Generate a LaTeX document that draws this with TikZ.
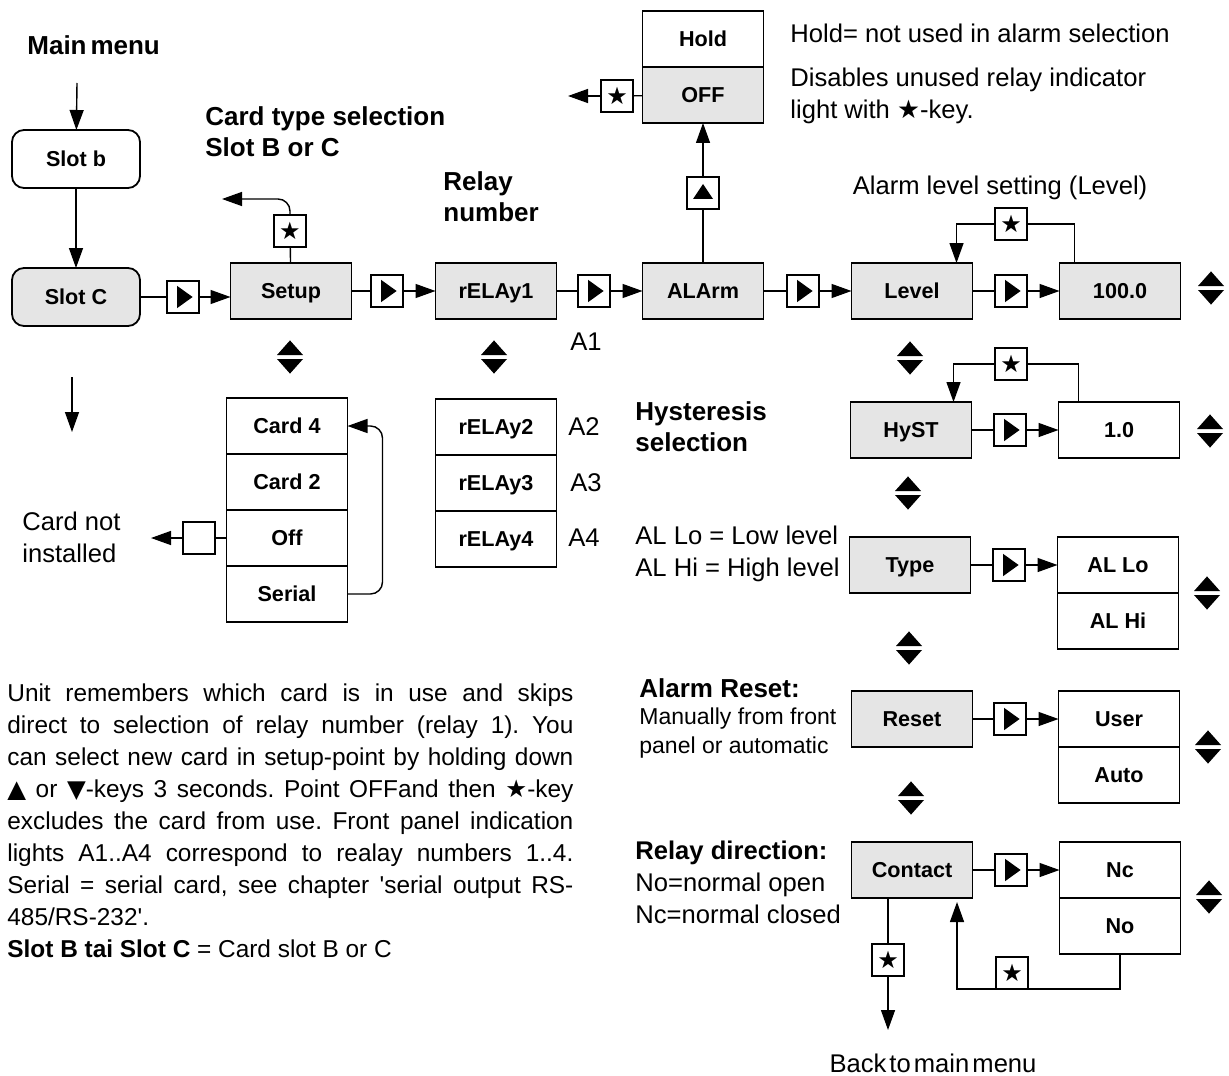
\documentclass[tikz,border=0pt]{standalone}
\usepackage{fontspec}
\setmainfont{Liberation Sans}
\newfontfamily\symfont{DejaVu Sans}
\usetikzlibrary{arrows.meta,positioning}

\newcommand\boxfont{\bfseries\fontsize{10.8}{12}\selectfont}
\newcommand\txtfont{\fontsize{12.8}{16}\selectfont}
\newcommand\smallfont{\fontsize{11.5}{14.5}\selectfont}
\newcommand\headfont{\bfseries\fontsize{13}{15.5}\selectfont}
\newcommand\parfont{\fontsize{12.2}{16}\selectfont\frenchspacing
  \spaceskip=0.22em plus 0.6em minus 0.05em}
\newcommand\starsym{{\symfont ★}}

\tikzset{
  menubox/.style={draw, line width=0.9pt, fill=black!10, minimum width=60.5pt,
    minimum height=28pt, inner sep=0pt, outer sep=0pt, font=\boxfont,
    text height=7.7pt, text depth=0pt},
  optbox/.style={menubox, fill=white},
  slotbox/.style={menubox, rounded corners=6pt, minimum width=64pt, minimum height=29pt},
  keybox/.style={draw, fill=white, line width=0.8pt, minimum size=16pt, inner sep=0pt,
    outer sep=0pt, font=\symfont\fontsize{12}{12}\selectfont},
  playkey/.style={keybox, path picture={
    \fill[black] ([xshift=-3pt,yshift=5.6pt]path picture bounding box.center)
      -- ++(7.8pt,-5.6pt) -- ++(-7.8pt,-5.6pt) -- cycle;}},
  upkey/.style={keybox, path picture={
    \fill[black] ([xshift=-5pt,yshift=-3pt]path picture bounding box.center)
      -- ++(10pt,0) -- ++(-5pt,7.5pt) -- cycle;}},
  updown/.style={minimum width=13.5pt, minimum height=18pt, inner sep=0pt, path picture={
    \fill[black] ([xshift=-6.5pt,yshift=1pt]path picture bounding box.center)
      -- ++(13pt,0) -- ++(-6.5pt,7.3pt) -- cycle;
    \fill[black] ([xshift=-6.5pt,yshift=-1pt]path picture bounding box.center)
      -- ++(13pt,0) -- ++(-6.5pt,-7.3pt) -- cycle;}},
  note/.style={anchor=west, align=left, inner sep=0pt, font=\txtfont},
  head/.style={note, font=\headfont},
  link/.style={line width=0.7pt},
  arr/.style={link, -{Triangle[length=10pt,width=7pt]}}
}

\begin{document}
\begin{tikzpicture}[x=0.5pt,y=-0.5pt]
\useasboundingbox (0,0) rectangle (1229,1075);

% slots
\node[head] (mainmenu) at (27,45) {Main\hspace{0.15em}menu};
\coordinate (mmIn) at (77,83);
\node[slotbox, fill=white] (slotb) at (76,159) {Slot b};
\node[slotbox] (slotc) at (76,297) {Slot C};
\draw[arr] (mmIn) -- (slotb);
\draw[arr] (slotb) -- (slotc);
\coordinate (skipA) at (72,377);
\coordinate (skipB) at (72,432);
\draw[arr] (skipA) -- (skipB);

% main row
\node[menubox] (setup) at (291,291) {Setup};
\node[menubox] (relay1) at (496,291) {rELAy1};
\node[menubox] (alarm) at (703,291) {ALArm};
\node[menubox] (level) at (912,291) {Level};
\node[menubox] (lvlval) at (1120,291) {100.0};
\node[playkey] (k1) at (183,297) {};
\node[playkey] (k2) at (387,291) {};
\node[playkey] (k3) at (594,291) {};
\node[playkey] (k4) at (803,291) {};
\node[playkey] (k5) at (1011,291) {};
\draw[link] (slotc) -- (k1);
\draw[arr] (k1) -- (k1 -| setup.west);
\foreach \a/\k/\b in {setup/k2/relay1, relay1/k3/alarm, alarm/k4/level, level/k5/lvlval} {
  \draw[link] (\a) -- (\k);
  \draw[arr] (\k) -- (\b);
}

% card type
\node[head] (cardsel) at (205,132) {Card type selection\\Slot B or C};
\node[keybox] (kS) at (290,231) {★};
\coordinate (setupOut) at (222,199);
\draw[link] (setup) -- (kS);
\draw[arr, rounded corners=6pt] (kS) |- (setupOut);
\node[optbox] (card4) at (287,426) {Card 4};
\node[optbox, below=0pt of card4] (card2) {Card 2};
\node[optbox, below=0pt of card2] (cardoff) {Off};
\node[optbox, below=0pt of cardoff] (serial) {Serial};
\draw[arr, rounded corners=6pt] (serial.east) -- ++(17.5pt,0) |- (card4.east);
\node[keybox] (kNone) at (199,538) {};
\coordinate (noneOut) at (151,538);
\draw[link] (cardoff) -- (kNone);
\draw[arr] (kNone) -- (noneOut);
\node[note] (cardnot) at (22,537) {Card not\\installed};

% relays
\node[head] (relaynum) at (443,197) {Relay\\number};
\node[optbox] (relay2) at (496,427) {rELAy2};
\node[optbox, below=0pt of relay2] (relay3) {rELAy3};
\node[optbox, below=0pt of relay3] (relay4) {rELAy4};
\node[note] (a1) at (570,342) {A1};
\node[note] (a2) at (568,427) {A2};
\node[note] (a3) at (570,483) {A3};
\node[note] (a4) at (568,538) {A4};

% hold / off
\node[optbox] (hold) at (703,39) {Hold};
\node[menubox, below=0pt of hold] (off) {OFF};
\node[upkey] (kUp) at (703,193) {};
\draw[link] (alarm) -- (kUp);
\draw[arr] (kUp) -- (off);
\node[keybox] (kOff) at (617,96) {★};
\coordinate (offOut) at (568,96);
\draw[link] (off) -- (kOff);
\draw[arr] (kOff) -- (offOut);
\node[note] (holdnote) at (790,33) {Hold= not used in alarm selection};
\node[note] (offnote) at (790,96) {Disables unused relay indicator\\light with \starsym-key.};

% level and hysteresis
\node[font=\txtfont] (lvlnote) at (1000,188) {Alarm level setting (Level)};
\node[keybox] (kL) at (1011,224) {★};
\draw[arr] (kL) -| ([xshift=-8pt]level.north east);
\draw[link] (kL) -| ([xshift=7.5pt]lvlval.north west);
\node[head] (hystnote) at (635,427) {Hysteresis\\selection};
\node[menubox] (hyst) at (911,430) {HyST};
\node[optbox] (hystval) at (1119,430) {1.0};
\node[playkey] (k6) at (1010,430) {};
\draw[link] (hyst) -- (k6);
\draw[arr] (k6) -- (hystval);
\node[keybox] (kH) at (1011,364) {★};
\draw[arr] (kH) -| ([xshift=-9pt]hyst.north east);
\draw[link] (kH) -| ([xshift=10pt]hystval.north west);

% type
\node[note] (typenote) at (635,554) {AL Lo = Low level\\AL Hi = High level};
\node[menubox] (type) at (910,565) {Type};
\node[optbox] (allo) at (1118,565) {AL Lo};
\node[optbox, below=0pt of allo] (alhi) {AL Hi};
\node[playkey] (k7) at (1009,565) {};
\draw[link] (type) -- (k7);
\draw[arr] (k7) -- (allo);

% reset
\node[head] (resethead) at (639,688) {Alarm Reset:};
\node[note, font=\smallfont] (resetnote) at (639,733) {Manually from front\\panel or automatic};
\node[menubox] (reset) at (912,719) {Reset};
\node[optbox] (user) at (1119,719) {User};
\node[optbox, below=0pt of user] (auto) {Auto};
\node[playkey] (k8) at (1010,719) {};
\draw[link] (reset) -- (k8);
\draw[arr] (k8) -- (user);

% contact
\node[note] (contnote) at (635,882) {\textbf{Relay direction:}\\No=normal open\\Nc=normal closed};
\node[menubox] (contact) at (912,870) {Contact};
\node[optbox] (nc) at (1120,870) {Nc};
\node[optbox, below=0pt of nc] (no) {No};
\node[playkey] (k9) at (1011,870) {};
\draw[link] (contact) -- (k9);
\draw[arr] (k9) -- (nc);
\node[keybox] (kBack) at (888,960) {★};
\coordinate (backOut) at (888,1030);
\draw[link] (contact.south -| kBack) -- (kBack);
\draw[arr] (kBack) -- (backOut);
\node[font=\txtfont] (backnote) at (933,1063) {Back\hspace{0.12em}to\hspace{0.12em}main\hspace{0.12em}menu};
\coordinate (retCorner) at (957,989);
\draw[arr] (no.south) |- (retCorner) -- ([yshift=-2pt]contact.south -| retCorner);
\node[keybox, anchor=south] (kRet) at (1012,989) {★};

% up/down keys
\foreach \p [count=\i] in {(290,357),(494,357),(1211,288),(910,358),(1210,431),
    (908,493),(1207,593),(909,648),(1208,747),(911,798),(1209,897)}
  \node[updown] (ud\i) at \p {};

% explanation
\node[anchor=north west, text width=283pt, align=justify, inner sep=0pt, font=\parfont] (notes) at (7,683) {\noindent
Unit remembers which card is in use and skips\linebreak
direct to selection of relay number (relay 1). You\linebreak
can select new card in setup-point by holding down\linebreak
{\symfont ▲} or {\symfont ▼}-keys 3 seconds. Point OFFand then \starsym-key\linebreak
excludes the card from use. Front panel indication\linebreak
lights A1..A4 correspond to realay numbers 1..4.\linebreak
Serial = serial card, see chapter \textquotesingle serial output RS-\linebreak
485/RS-232\textquotesingle.\\
{\spaceskip=0pt \textbf{Slot B tai Slot C} = Card slot B or C}};
\end{tikzpicture}
\end{document}
